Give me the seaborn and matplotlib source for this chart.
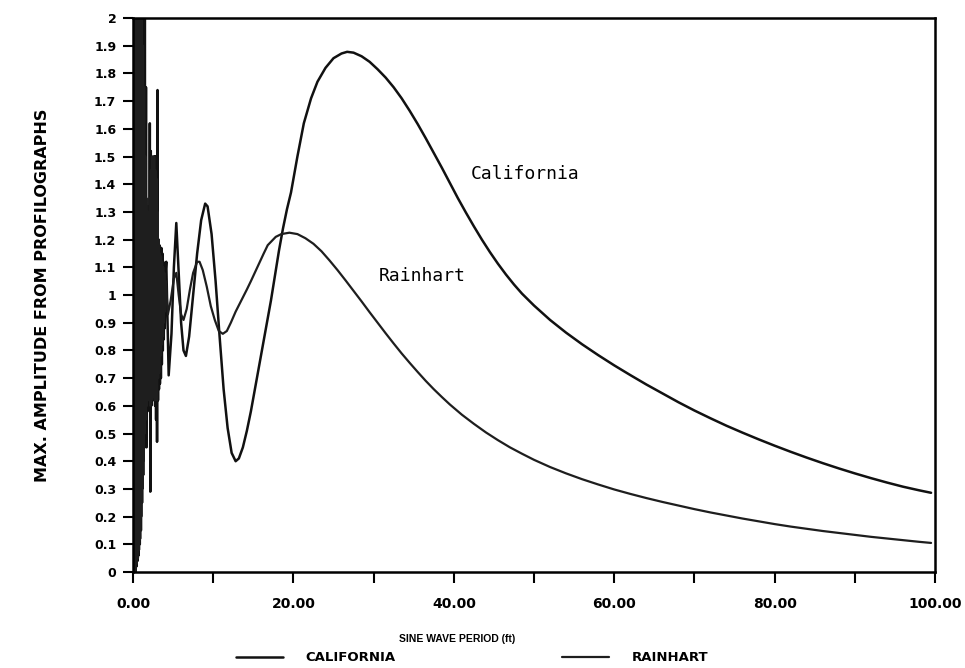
import pandas as pd
import numpy as np
import matplotlib
matplotlib.use("Agg")
import matplotlib.pyplot as plt
import seaborn as sns


# 1. Data

cal_x = [0.15, 0.22, 0.29, 0.36, 0.43, 0.50, 0.57, 0.64, 0.71, 0.78, 0.85, 0.92, 0.99, 1.06,
         1.13, 1.20, 1.27, 1.34, 1.41, 1.48, 1.55, 1.62, 1.68, 1.74, 1.80, 1.86, 1.92, 1.98,
         2.04, 2.10, 2.16, 2.22, 2.28, 2.34, 2.40, 2.46, 2.52, 2.58, 2.64, 2.70, 2.76, 2.82,
         2.88, 2.94, 3.00, 3.06, 3.12, 3.18, 3.24, 3.30, 3.36, 3.42, 3.48, 3.54, 3.60, 3.66,
         3.72, 3.78, 3.84, 3.90, 3.96, 4.05, 4.15, 4.45,
         4.80, 5.10, 5.40, 5.70, 6.00, 6.30, 6.60, 7.00, 7.50, 8.00, 8.50, 9.00, 9.30, 9.80,
         10.3, 10.8, 11.3, 11.8, 12.3, 12.8, 13.2, 13.7, 14.2, 14.7, 15.2, 15.7, 16.2, 16.7,
         17.2, 17.7, 18.2, 18.7, 19.2, 19.7, 20.5, 21.3, 22.2, 23.0, 24.0, 25.0, 26.0, 26.7,
         27.5, 28.5, 29.5, 30.5, 31.5, 32.5, 33.5, 34.5, 35.5, 36.5, 37.5, 38.5, 39.5, 40.5,
         41.5, 42.5, 43.5, 44.5, 45.5, 46.5, 47.5, 48.5, 50.0, 52.0, 54.0, 56.0, 58.0, 60.0,
         62.0, 64.0, 66.0, 68.0, 70.0, 72.0, 74.0, 76.0, 78.0, 80.0, 82.0, 84.0, 86.0, 88.0,
         90.0, 92.0, 94.0, 96.0, 98.0, 99.5]
cal_y = [0.00, 2.05, 0.00, 2.05, 0.02, 2.05, 0.04, 2.05, 0.06, 2.05, 0.10, 2.05, 0.15, 2.05,
         0.25, 2.05, 0.35, 2.05, 0.45, 2.00, 0.50, 1.75, 0.45, 1.32, 0.58, 1.30, 0.60, 1.32,
         0.62, 1.62, 0.29, 1.52, 0.60, 1.50, 0.62, 1.48, 0.64, 1.50, 0.62, 1.50, 0.60, 1.50,
         0.55, 1.50, 0.47, 1.74, 0.62, 1.20, 0.66, 1.18, 0.68, 1.17, 0.70, 1.17, 0.75, 1.15,
         0.80, 1.12, 0.84, 1.10, 0.88, 1.08, 1.12, 0.71,
         0.86, 1.10, 1.26, 1.08, 0.90, 0.80, 0.78, 0.85, 1.00, 1.15, 1.27, 1.33, 1.32, 1.22,
         1.05, 0.85, 0.66, 0.52, 0.43, 0.40, 0.41, 0.45, 0.51, 0.58, 0.66, 0.74, 0.82, 0.90,
         0.98, 1.07, 1.16, 1.24, 1.31, 1.37, 1.50, 1.62, 1.71, 1.77, 1.82, 1.855, 1.872, 1.878,
         1.875, 1.862, 1.842, 1.815, 1.785, 1.75, 1.71, 1.665, 1.617, 1.566, 1.513, 1.46, 1.405, 1.35,
         1.298, 1.248, 1.20, 1.155, 1.113, 1.074, 1.038, 1.005, 0.962, 0.91, 0.864, 0.822, 0.783, 0.746,
         0.711, 0.677, 0.645, 0.613, 0.583, 0.555, 0.528, 0.503, 0.479, 0.456, 0.434, 0.413, 0.393, 0.374,
         0.356, 0.339, 0.323, 0.308, 0.295, 0.286]

rain_x = [0.20, 0.27, 0.34, 0.41, 0.48, 0.55, 0.62, 0.69, 0.76, 0.83, 0.90, 0.97, 1.04, 1.11,
          1.18, 1.25, 1.32, 1.39, 1.46, 1.53, 1.60, 1.67, 1.74, 1.81, 1.88, 1.95, 2.02, 2.09,
          2.16, 2.23, 2.30, 2.37, 2.44, 2.51, 2.58, 2.65, 2.72, 2.79, 2.86, 2.93, 3.00, 3.07,
          3.14, 3.21, 3.28, 3.35, 3.42, 3.49, 3.56, 3.63, 3.70, 3.77, 3.84, 3.91, 3.98, 4.10,
          4.35, 4.70, 5.10, 5.40, 5.70, 6.00, 6.30, 6.70, 7.10, 7.50, 8.00, 8.30, 8.70, 9.20,
          9.70, 10.2, 10.7, 11.2, 11.7, 12.2, 12.8, 13.5, 14.2, 14.7, 15.5, 16.3, 16.8, 17.8,
          18.5, 19.5, 20.5, 21.5, 22.5, 23.5, 24.5, 25.5, 26.5, 27.5, 28.5, 29.5, 30.5, 31.5,
          32.5, 33.5, 34.5, 35.5, 36.5, 37.5, 38.5, 39.5, 41.0, 42.5, 44.0, 45.5, 47.0, 48.5,
          50.0, 52.0, 54.0, 56.0, 58.0, 60.0, 62.0, 64.0, 66.0, 68.0, 70.0, 72.0, 74.0, 76.0,
          78.0, 80.0, 82.0, 84.0, 86.0, 88.0, 90.0, 92.0, 94.0, 96.0, 98.0, 99.5]
rain_y = [0.00, 2.05, 0.00, 2.05, 0.03, 2.05, 0.05, 2.05, 0.08, 2.05, 0.12, 2.05, 0.20, 2.00,
          0.30, 1.90, 0.40, 1.75, 0.50, 1.50, 0.55, 1.35, 0.60, 1.30, 0.62, 1.30, 0.63, 1.35,
          0.60, 1.45, 0.62, 1.50, 0.63, 1.45, 0.65, 1.50, 0.62, 1.45, 0.64, 1.42, 0.62, 1.30,
          0.70, 1.20, 0.72, 1.15, 0.78, 1.14, 0.82, 1.12, 0.85, 1.10, 0.90, 1.08, 0.94, 1.05,
          0.93, 0.98, 1.06, 1.08, 1.00, 0.93, 0.91, 0.95, 1.02, 1.08, 1.12, 1.12, 1.09, 1.03,
          0.96, 0.91, 0.87, 0.86, 0.87, 0.90, 0.94, 0.98, 1.02, 1.05, 1.10, 1.15, 1.18, 1.21,
          1.22, 1.225, 1.22, 1.205, 1.185, 1.158, 1.125, 1.09, 1.053, 1.015, 0.977, 0.938, 0.90, 0.862,
          0.825, 0.789, 0.755, 0.722, 0.69, 0.66, 0.632, 0.605, 0.568, 0.535, 0.504, 0.476, 0.45, 0.427,
          0.405, 0.379, 0.356, 0.335, 0.316, 0.298, 0.282, 0.267, 0.253, 0.240, 0.227, 0.215, 0.204, 0.193,
          0.183, 0.173, 0.164, 0.156, 0.148, 0.141, 0.134, 0.127, 0.121, 0.115, 0.109, 0.105]

y_ticks = [0, 0.1, 0.2, 0.3, 0.4, 0.5, 0.6, 0.7, 0.8, 0.9, 1.0,
           1.1, 1.2, 1.3, 1.4, 1.5, 1.6, 1.7, 1.8, 1.9, 2.0]
y_tick_labels = ['0', '0.1', '0.2', '0.3', '0.4', '0.5', '0.6', '0.7', '0.8', '0.9', '1',
                 '1.1', '1.2', '1.3', '1.4', '1.5', '1.6', '1.7', '1.8', '1.9', '2']
x_ticks = [0, 20, 40, 60, 80, 100]
x_tick_labels = ['0.00', '20.00', '40.00', '60.00', '80.00', '100.00']
x_minor = [10, 30, 50, 70, 90]


# 2. Plot

sns.set_theme(style="ticks", rc={'text.color': 'black', 'axes.labelcolor': 'black',
                                 'xtick.color': 'black', 'ytick.color': 'black'})
fig = plt.figure(figsize=(9.65, 6.68), dpi=100)
ax = fig.add_axes([0.1378, 0.1437, 0.8312, 0.8293])

sns.lineplot(x=cal_x, y=cal_y, ax=ax, color='#111111', linewidth=1.8,
             sort=False, estimator=None, label='CALIFORNIA')
sns.lineplot(x=rain_x, y=rain_y, ax=ax, color='#1e1e1e', linewidth=1.6,
             sort=False, estimator=None, label='RAINHART')

ax.set_xlim(0, 100)
ax.set_ylim(0, 2)
ax.set_yticks(y_ticks)
ax.set_yticklabels(y_tick_labels, fontsize=9, fontweight='bold')
ax.set_xticks(x_ticks)
ax.set_xticklabels(x_tick_labels, fontsize=10, fontweight='bold')
ax.set_xticks(x_minor, minor=True)
ax.tick_params(axis='y', direction='out', length=7, width=1.5, pad=5)
ax.tick_params(axis='x', which='both', direction='out', length=8, width=1.5, pad=10)

for sp in ax.spines.values():
    sp.set_visible(True)
    sp.set_linewidth(1.8)
    sp.set_color('black')

ax.set_xlabel('SINE WAVE PERIOD (ft)', fontsize=7.5, fontweight='bold', family='Liberation Sans')
ax.xaxis.set_label_coords(0.404, -0.112)
ax.set_ylabel('MAX. AMPLITUDE FROM PROFILOGRAPHS', fontsize=11.5, fontweight='bold')
ax.yaxis.set_label_coords(-0.103, 0.5)

ax.text(42.1, 1.437, 'California', fontsize=13, family='DejaVu Sans Mono', va='center', ha='left')
ax.text(30.6, 1.07, 'Rainhart', fontsize=13, family='DejaVu Sans Mono', va='center', ha='left')

ax.legend(loc='center', bbox_to_anchor=(0.423, -0.155), ncol=2, frameon=False,
          handlelength=3.55, handletextpad=1.75, columnspacing=12.6,
          prop={'size': 9.5, 'weight': 'bold'})

plt.savefig("out.png", dpi=100)
plt.close()
